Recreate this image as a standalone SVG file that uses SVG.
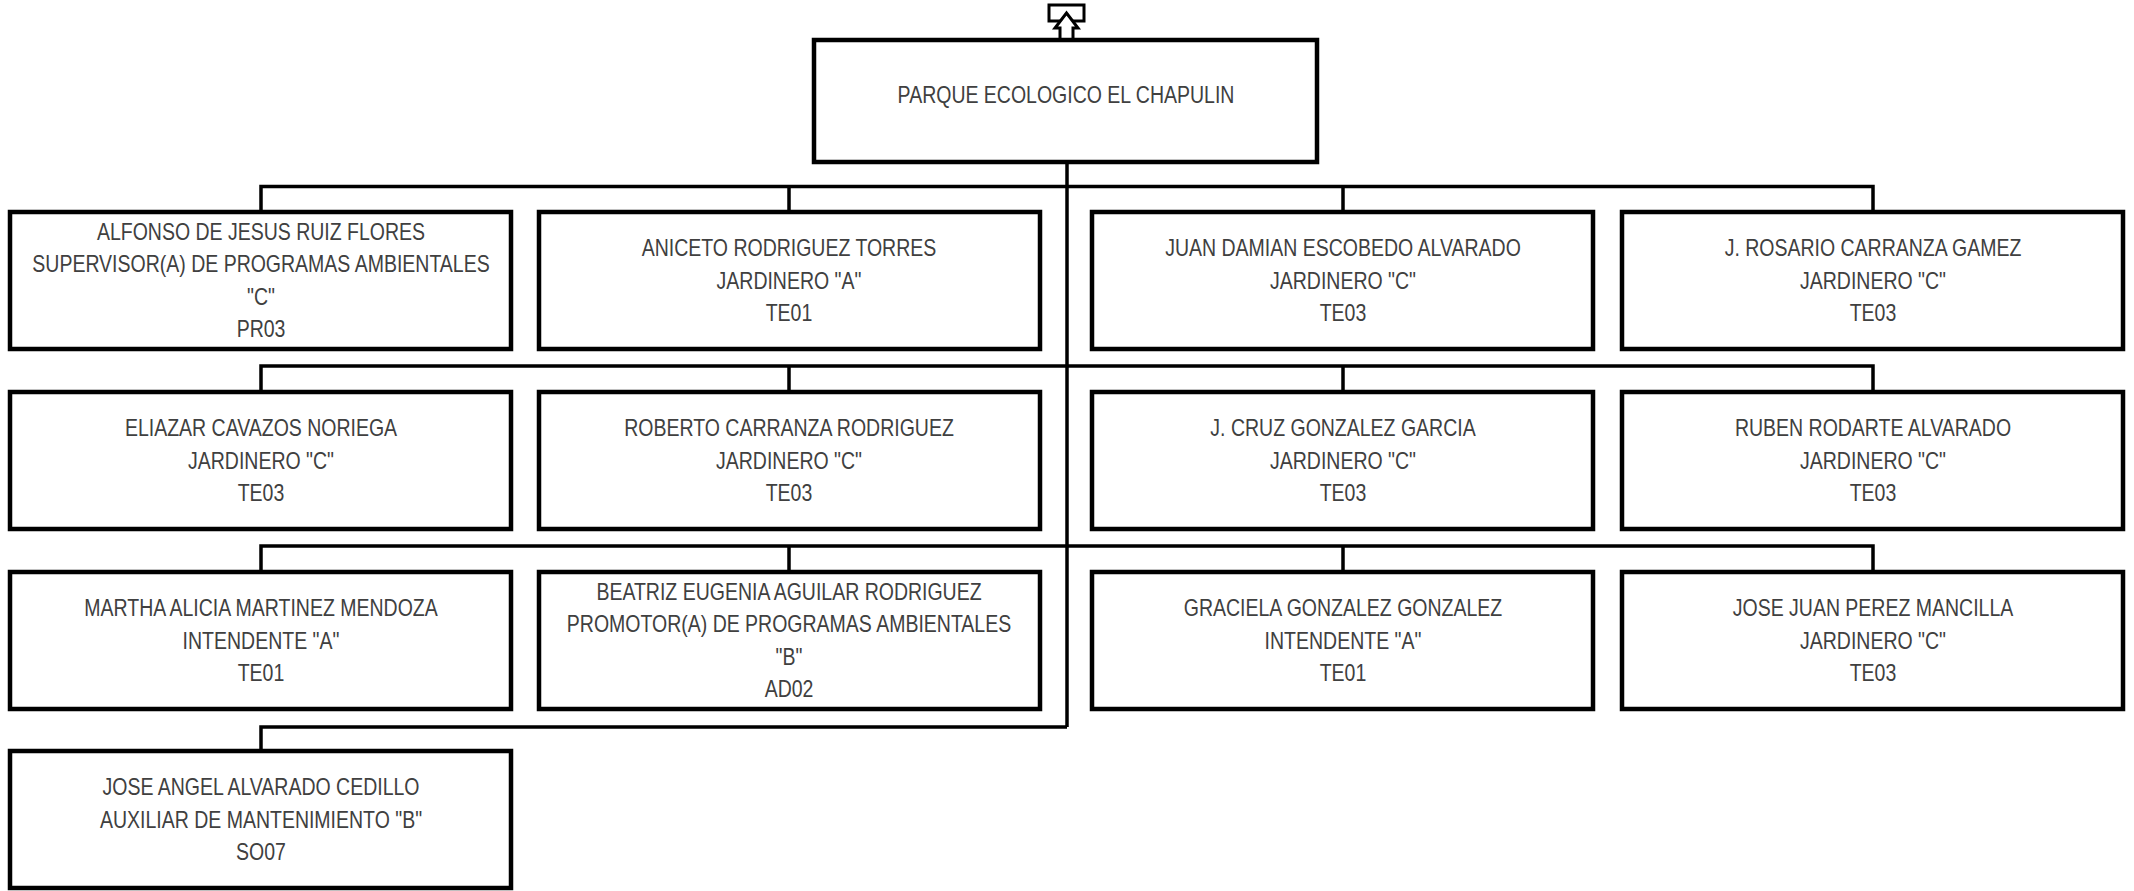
<svg xmlns="http://www.w3.org/2000/svg" width="2134" height="891" viewBox="0 0 2134 891">
<style>
.box{fill:#fff;stroke:#000;stroke-width:4.5}
.ln{fill:none;stroke:#000;stroke-width:3.5}
text{font-family:"Liberation Sans",Arial,sans-serif;font-size:23.5px;fill:#404040;text-anchor:middle}
</style>
<rect width="2134" height="891" fill="#fff"/>
<g id="connectors">
<path class="ln" d="M1067 162V727"/>
<path class="ln" d="M261 212V186.5H1873V212M789 186.5V212M1343 186.5V212"/>
<path class="ln" d="M261 392V366H1873V392M789 366V392M1343 366V392"/>
<path class="ln" d="M261 572V546H1873V572M789 546V572M1343 546V572"/>
<path class="ln" d="M261 751V727H1067"/>
</g>
<g id="icon">
<rect x="1049" y="5" width="35" height="16" fill="#fff" stroke="#000" stroke-width="3"/>
<path d="M1060 40V28H1055L1066.5 13L1078 28H1073V40Z" fill="#fff" stroke="#000" stroke-width="3"/>
</g>
<g id="n0"><rect class="box" x="814" y="40" width="503" height="122"/><g transform="translate(1066 0) scale(0.83 1)"><text x="0" y="103">PARQUE ECOLOGICO EL CHAPULIN</text></g></g>
<g id="n1"><rect class="box" x="10" y="212" width="501" height="137"/><g transform="translate(261 0) scale(0.83 1)"><text x="0" y="240">ALFONSO DE JESUS RUIZ FLORES</text><text x="0" y="272.5">SUPERVISOR(A) DE PROGRAMAS AMBIENTALES</text><text x="0" y="305">"C"</text><text x="0" y="337.5">PR03</text></g></g>
<g id="n2"><rect class="box" x="539" y="212" width="501" height="137"/><g transform="translate(789 0) scale(0.83 1)"><text x="0" y="256.5">ANICETO RODRIGUEZ TORRES</text><text x="0" y="289">JARDINERO "A"</text><text x="0" y="321.5">TE01</text></g></g>
<g id="n3"><rect class="box" x="1092" y="212" width="501" height="137"/><g transform="translate(1343 0) scale(0.83 1)"><text x="0" y="256.5">JUAN DAMIAN ESCOBEDO ALVARADO</text><text x="0" y="289">JARDINERO "C"</text><text x="0" y="321.5">TE03</text></g></g>
<g id="n4"><rect class="box" x="1622" y="212" width="501" height="137"/><g transform="translate(1873 0) scale(0.83 1)"><text x="0" y="256.5">J. ROSARIO CARRANZA GAMEZ</text><text x="0" y="289">JARDINERO "C"</text><text x="0" y="321.5">TE03</text></g></g>
<g id="n5"><rect class="box" x="10" y="392" width="501" height="137"/><g transform="translate(261 0) scale(0.83 1)"><text x="0" y="436.5">ELIAZAR CAVAZOS NORIEGA</text><text x="0" y="469">JARDINERO "C"</text><text x="0" y="501.5">TE03</text></g></g>
<g id="n6"><rect class="box" x="539" y="392" width="501" height="137"/><g transform="translate(789 0) scale(0.83 1)"><text x="0" y="436.5">ROBERTO CARRANZA RODRIGUEZ</text><text x="0" y="469">JARDINERO "C"</text><text x="0" y="501.5">TE03</text></g></g>
<g id="n7"><rect class="box" x="1092" y="392" width="501" height="137"/><g transform="translate(1343 0) scale(0.83 1)"><text x="0" y="436.5">J. CRUZ GONZALEZ GARCIA</text><text x="0" y="469">JARDINERO "C"</text><text x="0" y="501.5">TE03</text></g></g>
<g id="n8"><rect class="box" x="1622" y="392" width="501" height="137"/><g transform="translate(1873 0) scale(0.83 1)"><text x="0" y="436.5">RUBEN RODARTE ALVARADO</text><text x="0" y="469">JARDINERO "C"</text><text x="0" y="501.5">TE03</text></g></g>
<g id="n9"><rect class="box" x="10" y="572" width="501" height="137"/><g transform="translate(261 0) scale(0.83 1)"><text x="0" y="616.5">MARTHA ALICIA MARTINEZ MENDOZA</text><text x="0" y="649">INTENDENTE "A"</text><text x="0" y="681.5">TE01</text></g></g>
<g id="n10"><rect class="box" x="539" y="572" width="501" height="137"/><g transform="translate(789 0) scale(0.83 1)"><text x="0" y="600">BEATRIZ EUGENIA AGUILAR RODRIGUEZ</text><text x="0" y="632.5">PROMOTOR(A) DE PROGRAMAS AMBIENTALES</text><text x="0" y="665">"B"</text><text x="0" y="697.5">AD02</text></g></g>
<g id="n11"><rect class="box" x="1092" y="572" width="501" height="137"/><g transform="translate(1343 0) scale(0.83 1)"><text x="0" y="616.5">GRACIELA GONZALEZ GONZALEZ</text><text x="0" y="649">INTENDENTE "A"</text><text x="0" y="681.5">TE01</text></g></g>
<g id="n12"><rect class="box" x="1622" y="572" width="501" height="137"/><g transform="translate(1873 0) scale(0.83 1)"><text x="0" y="616.5">JOSE JUAN PEREZ MANCILLA</text><text x="0" y="649">JARDINERO "C"</text><text x="0" y="681.5">TE03</text></g></g>
<g id="n13"><rect class="box" x="10" y="751" width="501" height="137"/><g transform="translate(261 0) scale(0.83 1)"><text x="0" y="795.5">JOSE ANGEL ALVARADO CEDILLO</text><text x="0" y="828">AUXILIAR DE MANTENIMIENTO "B"</text><text x="0" y="860.5">SO07</text></g></g>
</svg>
